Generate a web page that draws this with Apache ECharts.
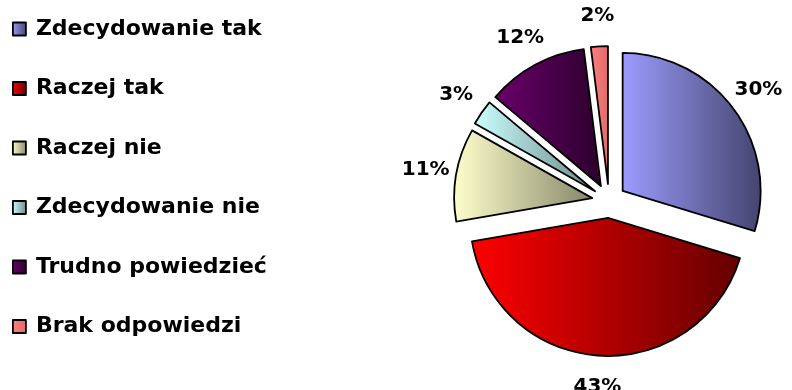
<!DOCTYPE html>
<html>
<head>
<meta charset="utf-8">
<script src="https://cdn.jsdelivr.net/npm/echarts@6/dist/echarts.min.js"></script>
<style>
  html, body { margin: 0; padding: 0; background: #fff; }
  #chart { width: 792px; height: 390px; }
</style>
</head>
<body>
<div id="chart"></div>
<script>
// Survey answers and their shares (percent)
const categories = ['Zdecydowanie tak', 'Raczej tak', 'Raczej nie', 'Zdecydowanie nie', 'Trudno powiedzieć', 'Brak odpowiedzi'];
const shares = [30, 43, 11, 3, 12, 2];

// Each slice is shaded from a light tone on the left to a darker tone on the right
const lightColors = ['#9c9cff', '#ff0000', '#ffffcc', '#ccffff', '#6a006a', '#ff8080'];
const darkColors  = ['#44446e', '#640000', '#86866a', '#6a8888', '#2c002c', '#e06a6a'];

const FONT = 'DejaVu Sans';

function shade(i) {
  return new echarts.graphic.LinearGradient(0, 0, 1, 0, [
    { offset: 0, color: lightColors[i] },
    { offset: 1, color: darkColors[i] }
  ]);
}

const sliceData = categories.map((name, i) => ({
  name: name,
  value: shares[i],
  selected: true,
  itemStyle: { color: shade(i) }
}));

const labelData = categories.map((name, i) => ({
  name: name,
  value: shares[i],
  selected: true
}));

const center = [609, 201];
const offset = 17;

const chart = echarts.init(document.getElementById('chart'), null, { renderer: 'canvas' });
chart.setOption({
  animation: false,
  backgroundColor: '#ffffff',
  legend: {
    orient: 'vertical',
    left: 7,
    top: 13,
    itemWidth: 13,
    itemHeight: 13,
    itemGap: 37.5,
    icon: 'rect',
    selectedMode: false,
    data: categories,
    itemStyle: { borderColor: '#000', borderWidth: 1.8 },
    textStyle: {
      fontFamily: FONT,
      fontWeight: 'bold',
      fontSize: 22,
      lineHeight: 22,
      color: '#000',
      padding: [0, 0, 0, 5]
    }
  },
  series: [
    {
      name: 'slices',
      type: 'pie',
      center: center,
      radius: 138,
      startAngle: 90,
      clockwise: true,
      selectedMode: 'multiple',
      selectedOffset: offset,
      avoidLabelOverlap: false,
      label: { show: false },
      labelLine: { show: false },
      itemStyle: { borderColor: '#000', borderWidth: 1.8 },
      emphasis: { disabled: true },
      select: { itemStyle: { borderColor: '#000', borderWidth: 1.8 } },
      data: sliceData
    },
    {
      name: 'values',
      type: 'pie',
      center: center,
      radius: [156, 176],
      startAngle: 90,
      clockwise: true,
      silent: true,
      selectedMode: 'multiple',
      selectedOffset: offset,
      avoidLabelOverlap: false,
      itemStyle: { color: 'rgba(0,0,0,0)', borderWidth: 0 },
      select: { itemStyle: { color: 'rgba(0,0,0,0)', borderWidth: 0 } },
      emphasis: { disabled: true },
      label: {
        show: true,
        position: 'inside',
        formatter: '{c}%',
        fontFamily: FONT,
        fontWeight: 'bold',
        fontSize: 20,
        color: '#000'
      },
      labelLine: { show: false },
      data: labelData
    }
  ]
});
</script>
</body>
</html>
